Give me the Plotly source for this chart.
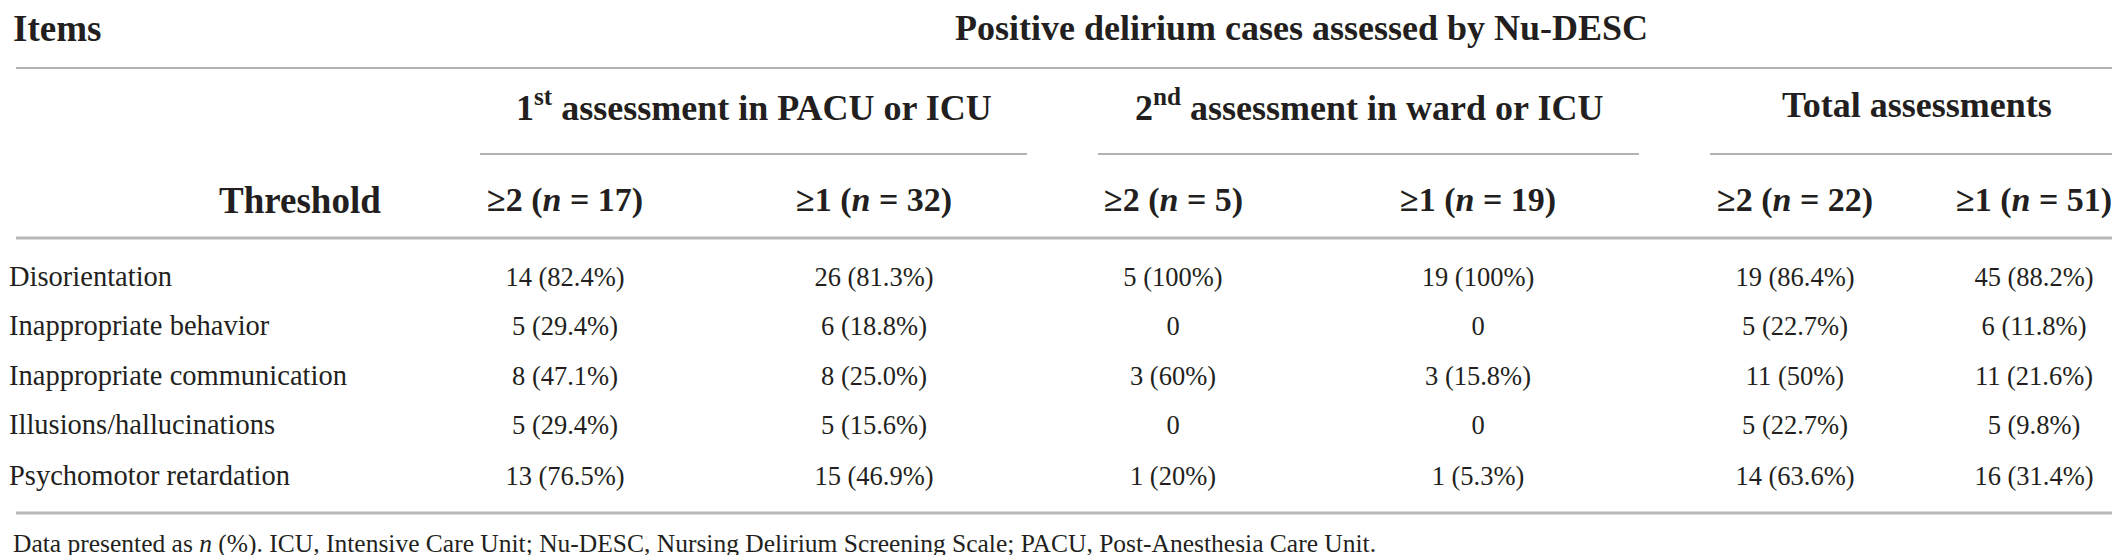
import plotly.graph_objects as go

# ---- table content ----
items = ["Disorientation", "Inappropriate behavior", "Inappropriate communication",
         "Illusions/hallucinations", "Psychomotor retardation"]
groups = ["1<sup>st</sup> assessment in PACU or ICU",
          "2<sup>nd</sup> assessment in ward or ICU",
          "Total assessments"]
thresholds = ["≥2 (<i>n</i> = 17)", "≥1 (<i>n</i> = 32)",
              "≥2 (<i>n</i> = 5)", "≥1 (<i>n</i> = 19)",
              "≥2 (<i>n</i> = 22)", "≥1 (<i>n</i> = 51)"]

first_ge2 = ["14 (82.4%)", "5 (29.4%)", "8 (47.1%)", "5 (29.4%)", "13 (76.5%)"]
first_ge1 = ["26 (81.3%)", "6 (18.8%)", "8 (25.0%)", "5 (15.6%)", "15 (46.9%)"]
second_ge2 = ["5 (100%)", "0", "3 (60%)", "0", "1 (20%)"]
second_ge1 = ["19 (100%)", "0", "3 (15.8%)", "0", "1 (5.3%)"]
total_ge2 = ["19 (86.4%)", "5 (22.7%)", "11 (50%)", "5 (22.7%)", "14 (63.6%)"]
total_ge1 = ["45 (88.2%)", "6 (11.8%)", "11 (21.6%)", "5 (9.8%)", "16 (31.4%)"]
columns = [first_ge2, first_ge1, second_ge2, second_ge1, total_ge2, total_ge1]

title_left = "Items"
title_main = "Positive delirium cases assessed by Nu-DESC"
threshold_label = "Threshold"
footnote = ("Data presented as <i>n</i> (%). ICU, Intensive Care Unit; Nu-DESC, "
            "Nursing Delirium Screening Scale; PACU, Post-Anesthesia Care Unit.")

# ---- layout (pixel positions) ----
W, H = 2120, 555
col_x = [557, 866, 1165, 1470, 1787, 2026]
group_span = [(472, 1019), (1090, 1631), (1702, 2115)]
row_y = [271, 320, 370, 419, 470]
y_top, y_group, y_thr, y_foot = 20, 97, 192, 535

SERIF = "'Liberation Serif', 'Times New Roman', 'DejaVu Serif', serif"
INK = "#231f20"
head = dict(family=SERIF, size=37, color=INK)
group_font = dict(family=SERIF, size=36, color=INK)
thr_font = dict(family=SERIF, size=34, color=INK)
body = dict(family=SERIF, size=26.5, color=INK)
label_font = dict(family=SERIF, size=28.5, color=INK)

fig = go.Figure()

# body cells
for cx, vals in zip(col_x, columns):
    fig.add_trace(go.Scatter(
        x=[cx] * len(vals), y=row_y, mode="text", text=vals,
        textfont=body, textposition="middle center",
        hoverinfo="skip", showlegend=False))

ann = []
# row labels, left aligned
for y, lab in zip(row_y, items):
    ann.append(dict(x=0, y=y - 3, text=lab, xanchor="left", font=label_font))
ann.append(dict(x=4, y=y_top, text="<b>%s</b>" % title_left, xanchor="left", font=head))
ann.append(dict(x=(472 + 2115) / 2, y=y_top, text="<b>%s</b>" % title_main, font=group_font))
for (a, b), g in zip(group_span, groups):
    ann.append(dict(x=(a + b) / 2, y=y_group, text="<b>%s</b>" % g, font=group_font))
ann.append(dict(x=292, y=y_thr, text="<b>%s</b>" % threshold_label, font=head))
for cx, t in zip(col_x, thresholds):
    ann.append(dict(x=cx, y=y_thr, text="<b>%s</b>" % t, font=thr_font))
ann.append(dict(x=4, y=y_foot, text=footnote, xanchor="left",
                font=dict(family=SERIF, size=25.5, color=INK)))
for a in ann:
    a.update(xref="x", yref="y", showarrow=False, yanchor="middle", borderpad=0)

shapes = [
    dict(type="line", x0=8, x1=2115, y0=60, y1=60, line=dict(color="#9a9a9a", width=1.5)),
    dict(type="line", x0=8, x1=2115, y0=230, y1=230, line=dict(color="#b8b8b8", width=3)),
    dict(type="line", x0=8, x1=2115, y0=505, y1=505, line=dict(color="#b8b8b8", width=3)),
]
for a, b in group_span:
    shapes.append(dict(type="line", x0=a, x1=b, y0=146, y1=146,
                       line=dict(color="#9a9a9a", width=1.5)))
for s in shapes:
    s.update(xref="x", yref="y", layer="below")

fig.update_layout(
    width=W, height=H,
    margin=dict(l=0, r=0, t=0, b=0),
    paper_bgcolor="white", plot_bgcolor="white",
    annotations=ann, shapes=shapes,
    xaxis=dict(range=[0, W], visible=False, fixedrange=True),
    yaxis=dict(range=[H, 0], visible=False, fixedrange=True),
)

fig.write_html("out.html", config={"displayModeBar": False})
